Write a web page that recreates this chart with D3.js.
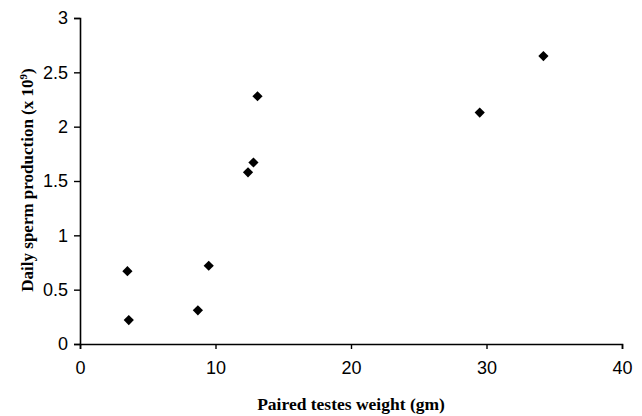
<!DOCTYPE html>
<html>
<head>
<meta charset="utf-8">
<script src="https://cdn.jsdelivr.net/npm/d3@7"></script>
<style>
  body { margin: 0; background: #fff; }
  svg { display: block; }
</style>
</head>
<body>
<div id="chart"></div>
<script>
// values
const testesWeight = [3.5, 3.6, 8.7, 9.5, 12.4, 12.8, 13.1, 29.5, 34.2];
const spermProduction = [0.67, 0.22, 0.31, 0.72, 1.58, 1.67, 2.28, 2.13, 2.65];
const xTicks = [0, 10, 20, 30, 40];
const yTicks = [0, 0.5, 1, 1.5, 2, 2.5, 3];

const width = 642, height = 416;
const margin = {top: 18, right: 20, bottom: 72, left: 80};

const svg = d3.select("#chart").append("svg")
  .attr("width", width)
  .attr("height", height);

const x = d3.scaleLinear().domain([0, 40]).range([margin.left, 622]);
const y = d3.scaleLinear().domain([0, 3]).range([344, margin.top]);

const tickFont = "'Liberation Sans Narrow', 'Arial Narrow', 'Liberation Sans', sans-serif";

// x axis
const xAxis = svg.append("g")
  .attr("transform", `translate(0,${y(0)})`)
  .call(d3.axisBottom(x).tickValues(xTicks).tickSize(5).tickPadding(12).tickFormat(d3.format("d")));

// y axis
const yAxis = svg.append("g")
  .attr("transform", `translate(${x(0)},0)`)
  .call(d3.axisLeft(y).tickValues(yTicks).tickSize(6).tickPadding(6).tickFormat(d => d));

[xAxis, yAxis].forEach(g => {
  g.select(".domain").attr("stroke", "#000").attr("stroke-width", 1.6);
  g.selectAll(".tick line").attr("stroke", "#000").attr("stroke-width", 1.4);
  g.selectAll(".tick text")
    .attr("fill", "#000")
    .style("font-family", tickFont)
    .style("font-size", "18px");
});

// points as diamonds
const pts = testesWeight.map((w, i) => ({w: w, p: spermProduction[i]}));
svg.append("g").selectAll("path")
  .data(pts)
  .join("path")
  .attr("d", d3.symbol(d3.symbolSquare, 52))
  .attr("transform", d => `translate(${x(d.w)},${y(d.p)}) rotate(45)`)
  .attr("fill", "#000");

// axis titles
svg.append("text")
  .attr("x", 351)
  .attr("y", 410)
  .attr("text-anchor", "middle")
  .style("font-family", "'Liberation Serif', 'Times New Roman', serif")
  .style("font-weight", "bold")
  .style("font-size", "17.5px")
  .text("Paired testes weight (gm)");

const yTitle = svg.append("text")
  .attr("transform", "translate(33,180) rotate(-90)")
  .attr("text-anchor", "middle")
  .style("font-family", "'Liberation Serif', 'Times New Roman', serif")
  .style("font-weight", "bold")
  .style("font-size", "17px");
yTitle.append("tspan").text("Daily sperm production (x 10");
yTitle.append("tspan").attr("dy", -6).style("font-size", "11px").text("9");
yTitle.append("tspan").attr("dy", 6).text(")");
</script>
</body>
</html>
